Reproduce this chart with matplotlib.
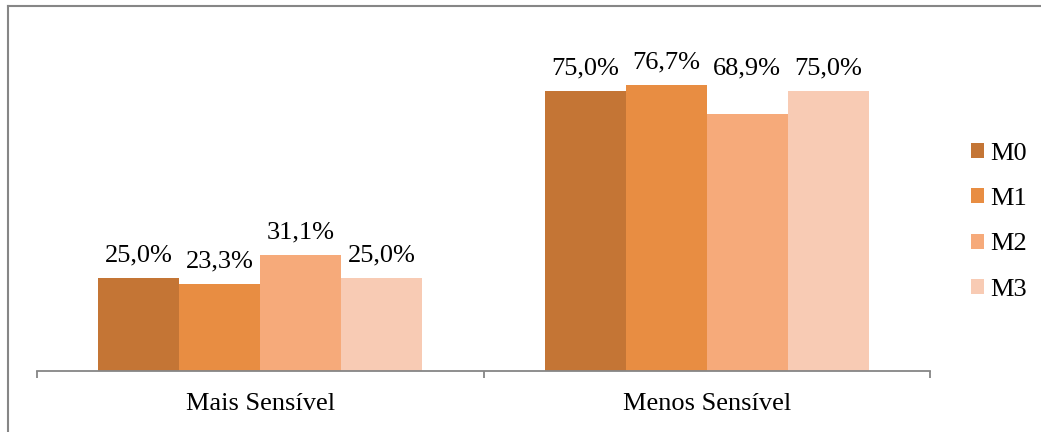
import matplotlib
matplotlib.use("Agg")
import matplotlib.pyplot as plt
from matplotlib.patches import Patch
from matplotlib.lines import Line2D
import numpy as np

categories = ["Mais Sensível", "Menos Sensível"]
series = ["M0", "M1", "M2", "M3"]
M0 = [25.0, 75.0]
M1 = [23.3, 76.7]
M2 = [31.1, 68.9]
M3 = [25.0, 75.0]
values = [M0, M1, M2, M3]
colors = ["#C47535", "#E88D42", "#F6AA7A", "#F8CBB4"]

plt.rcParams['font.family'] = ['Liberation Serif', 'DejaVu Serif']
W, H = 1041, 432
fig = plt.figure(figsize=(W/100, H/100), dpi=100)
ax = fig.add_axes([37/W, 1-371/H, (930-37)/W, (371-35)/H])

x = np.arange(len(categories))
bw = 0.1814
fs = 19
for i, (s, v) in enumerate(zip(series, values)):
    xs = x + (i - 1.5) * bw
    ax.bar(xs, v, width=bw, color=colors[i], edgecolor='none', label=s)
    for j, (xi, vi) in enumerate(zip(xs, v)):
        # in the original, the label of the lower bar in the second group was
        # lifted to the height of its neighbours' labels
        ly = max(vi, M0[j]) if i == 2 and j == 1 else vi
        ax.annotate(f"{vi:.1f}%".replace('.', ','), (xi, ly), xytext=(0, 12),
                    textcoords='offset points', ha='center', va='baseline', fontsize=fs)

ax.set_xlim(-0.5, 1.5)
ax.set_ylim(0, 90)
ax.set_xticks([-0.5, 0.5, 1.5])
ax.set_xticklabels([])
ax.set_xticks(x, minor=True)
ax.set_xticklabels(categories, minor=True, fontsize=fs)
ax.tick_params(axis='x', which='major', length=5, width=1.3, color='#868686', direction='out')
ax.tick_params(axis='x', which='minor', length=0, pad=16)
ax.set_yticks([])
for side in ['top', 'right', 'left']:
    ax.spines[side].set_visible(False)
ax.spines['bottom'].set_color('#868686')
ax.spines['bottom'].set_linewidth(1.3)

handles = [Patch(facecolor=c, edgecolor='none') for c in colors]
fig.legend(handles, series, loc='upper left', bbox_to_anchor=(971/W, 1-143/H),
           frameon=False, fontsize=fs, handlelength=0.5, handleheight=0.5,
           handletextpad=0.22, labelspacing=0.88, borderaxespad=0, borderpad=0)

# outer frame
fig.add_artist(Line2D([8/W, 8/W], [0, 1-6/H], color='#868686', lw=1.5, transform=fig.transFigure))
fig.add_artist(Line2D([8/W, 1], [1-6/H, 1-6/H], color='#868686', lw=1.5, transform=fig.transFigure))

fig.savefig("out.png", dpi=100)
